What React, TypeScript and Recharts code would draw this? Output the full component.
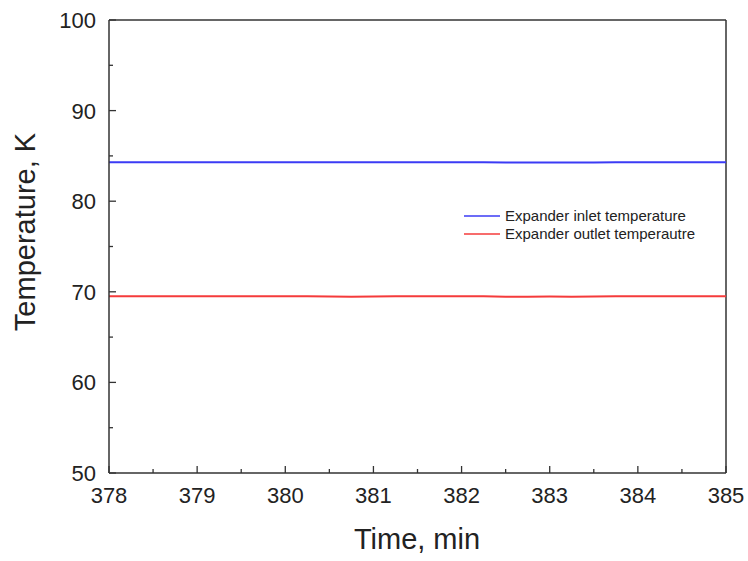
import React from 'react';
import { LineChart, Line, XAxis, YAxis, ReferenceLine } from 'recharts';

// time axis, min (0.25 min steps)
const TIME = [
  378, 378.25, 378.5, 378.75, 379, 379.25, 379.5, 379.75, 380, 380.25, 380.5, 380.75,
  381, 381.25, 381.5, 381.75, 382, 382.25, 382.5, 382.75, 383, 383.25, 383.5, 383.75,
  384, 384.25, 384.5, 384.75, 385,
];
// expander inlet temperature, K
const INLET = [
  84.3, 84.3, 84.3, 84.3, 84.3, 84.3, 84.3, 84.3, 84.3, 84.3, 84.3, 84.3,
  84.3, 84.3, 84.3, 84.3, 84.3, 84.3, 84.27, 84.26, 84.27, 84.28, 84.28, 84.29,
  84.29, 84.3, 84.3, 84.3, 84.3,
];
// expander outlet temperature, K
const OUTLET = [
  69.5, 69.5, 69.5, 69.5, 69.5, 69.5, 69.5, 69.5, 69.5, 69.5, 69.48, 69.45,
  69.49, 69.5, 69.5, 69.5, 69.5, 69.5, 69.46, 69.44, 69.47, 69.45, 69.48, 69.5,
  69.5, 69.5, 69.5, 69.5, 69.5,
];
const X_TICKS = [378, 378.5, 379, 379.5, 380, 380.5, 381, 381.5, 382, 382.5, 383, 383.5, 384, 384.5, 385];
const Y_TICKS = [50, 55, 60, 65, 70, 75, 80, 85, 90, 95, 100];

const SERIES = [
  { key: 'inlet', name: 'Expander inlet temperature', color: '#3b3bf5' },
  { key: 'outlet', name: 'Expander outlet temperautre', color: '#f53b3b' },
];

const data = TIME.map((t, i) => ({ t, inlet: INLET[i], outlet: OUTLET[i] }));

const AXIS = '#333';
const FONT = '"Liberation Sans", Arial, sans-serif';

const XTick = (props: any) => {
  const { x, y, payload } = props;
  const v = payload.value;
  const major = Number.isInteger(v);
  return (
    <g>
      <line x1={x} y1={y} x2={x} y2={y - (major ? 7 : 4)} stroke={AXIS} strokeWidth={1.3} />
      {major && (
        <text x={x} y={y + 30} textAnchor="middle" fontSize={22} fill="#222" fontFamily={FONT}>
          {v}
        </text>
      )}
    </g>
  );
};

const YTick = (props: any) => {
  const { x, y, payload } = props;
  const v = payload.value;
  const major = v % 10 === 0;
  return (
    <g>
      <line x1={x} y1={y} x2={x + (major ? 7 : 4)} y2={y} stroke={AXIS} strokeWidth={1.3} />
      {major && (
        <text x={x - 13} y={y} dy="0.36em" textAnchor="end" fontSize={22} fill="#222" fontFamily={FONT}>
          {v}
        </text>
      )}
    </g>
  );
};

// legend drawn in svg so it takes no layout space
const LEGEND_X = 464;
const LEGEND_Y = 216;
const LEGEND_ROW = 18;

export default function App() {
  return (
    <div style={{ position: 'absolute', left: 0, top: 0, width: 748, height: 561, background: '#fff' }}>
      <LineChart width={748} height={561} data={data} margin={{ top: 20, right: 22, left: 0, bottom: 0 }}>
        <XAxis
          dataKey="t"
          type="number"
          domain={[378, 385]}
          ticks={X_TICKS}
          interval={0}
          height={88}
          stroke={AXIS}
          strokeWidth={1.5}
          tickSize={0}
          tickMargin={0}
          tick={<XTick />}
        />
        <YAxis
          type="number"
          domain={[50, 100]}
          ticks={Y_TICKS}
          interval={0}
          width={109}
          stroke={AXIS}
          strokeWidth={1.5}
          tickSize={0}
          tickMargin={0}
          tick={<YTick />}
        />
        <ReferenceLine y={100} stroke={AXIS} strokeWidth={1.5} />
        <ReferenceLine x={385} stroke={AXIS} strokeWidth={1.5} />
        {SERIES.map((s) => (
          <Line
            key={s.key}
            dataKey={s.key}
            name={s.name}
            stroke={s.color}
            strokeWidth={2}
            dot={false}
            type="linear"
            isAnimationActive={false}
          />
        ))}
        <g>
          {SERIES.map((s, i) => (
            <g key={s.key}>
              <line
                x1={LEGEND_X}
                x2={LEGEND_X + 36}
                y1={LEGEND_Y + i * LEGEND_ROW}
                y2={LEGEND_Y + i * LEGEND_ROW}
                stroke={s.color}
                strokeWidth={1.6}
              />
              <text
                x={LEGEND_X + 41}
                y={LEGEND_Y + i * LEGEND_ROW}
                dy="0.36em"
                fontSize={15}
                fill="#222"
                fontFamily={FONT}
              >
                {s.name}
              </text>
            </g>
          ))}
        </g>
        <text x={417} y={549} textAnchor="middle" fontSize={29} fill="#222" fontFamily={FONT}>
          Time, min
        </text>
        <text
          x={35}
          y={232}
          textAnchor="middle"
          fontSize={29}
          fill="#222"
          fontFamily={FONT}
          transform="rotate(-90 35 232)"
        >
          Temperature, K
        </text>
      </LineChart>
    </div>
  );
}
